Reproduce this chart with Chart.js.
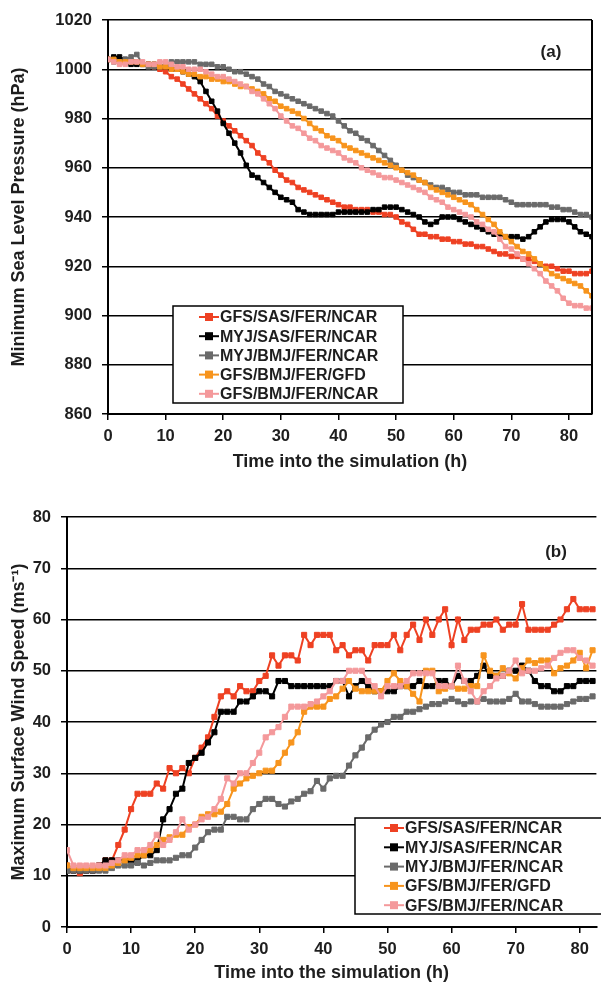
<!DOCTYPE html>
<html>
<head>
<meta charset="utf-8">
<script src="https://cdn.jsdelivr.net/npm/chart.js@4.4.1/dist/chart.umd.min.js"></script>
<style>
  html, body { margin: 0; padding: 0; background: #fff; }
  #wrap { position: relative; width: 601px; height: 984px; overflow: hidden; }
  #pressureChart { position: absolute; left: 0; top: 0; }
  #windChart { position: absolute; left: 0; top: 490px; }
</style>
</head>
<body>
<div id="wrap">
  <canvas id="pressureChart" width="601" height="490" style="width:601px;height:490px"></canvas>
  <canvas id="windChart" width="601" height="494" style="width:601px;height:494px"></canvas>
</div>
<script>
// ---- data ----
const seriesNames = ['GFS/SAS/FER/NCAR', 'MYJ/SAS/FER/NCAR', 'MYJ/BMJ/FER/NCAR', 'GFS/BMJ/FER/GFD', 'GFS/BMJ/FER/NCAR'];

// panel (a): hourly output, 0-84 h
const hoursA = [0,1,2,3,4,5,6,7,8,9,10,11,12,13,14,15,16,17,18,19,20,21,22,23,24,25,26,27,28,29,30,31,32,33,34,35,36,37,38,39,40,41,42,43,44,45,46,47,48,49,50,51,52,53,54,55,56,57,58,59,60,61,62,63,64,65,66,67,68,69,70,71,72,73,74,75,76,77,78,79,80,81,82,83,84];
const mslpGfsSasNcar = [1004,1004,1003,1003,1003,1003,1002,1002,1001,1000,999,997,996,994,992,990,988,986,984,981,979,977,975,973,971,969,966,964,962,959,957,955,954,952,951,950,949,948,947,946,945,944,944,943,943,943,942,942,941,941,940,938,937,935,933,933,932,932,931,931,930,930,929,929,928,928,927,926,925,925,924,924,923,923,922,921,920,920,919,918,918,917,917,917,918];
const mslpMyjSasNcar = [1004,1005,1005,1004,1002,1002,1002,1002,1002,1001,1001,1000,1000,999,998,997,995,991,987,983,978,974,970,966,961,957,956,954,952,950,948,947,946,943,942,941,941,941,941,941,942,942,942,942,942,942,943,943,944,944,944,943,942,941,940,938,937,938,940,940,940,939,938,937,936,935,934,933,933,932,932,932,931,932,934,936,938,939,939,939,938,936,934,933,932];
const mslpMyjBmjNcar = [1004,1003,1003,1004,1005,1006,1002,1001,1001,1001,1002,1003,1003,1003,1003,1003,1002,1002,1002,1001,1001,1000,999,999,998,997,996,994,993,991,990,989,988,987,986,985,984,983,982,981,979,977,975,974,972,971,969,967,965,963,961,959,957,956,955,954,953,952,952,951,950,950,949,949,949,948,948,948,948,947,946,945,945,945,945,945,945,944,944,943,943,942,941,941,940];
const mslpGfsBmjGfd = [1004,1004,1003,1003,1003,1003,1002,1002,1002,1001,1001,1000,1000,999,998,998,997,997,996,996,995,995,994,993,993,992,991,990,988,987,985,984,983,982,980,978,976,975,973,972,971,969,968,967,966,965,964,963,962,961,960,959,958,957,955,954,952,951,950,949,948,947,946,945,943,941,939,937,934,932,930,928,926,925,923,921,919,917,916,915,914,913,912,910,908];
const mslpGfsBmjNcar = [1004,1003,1002,1002,1003,1003,1003,1002,1002,1003,1003,1002,1001,1001,1000,1000,1000,999,998,997,997,996,995,994,993,991,990,988,986,984,981,979,977,976,974,972,971,969,968,967,966,964,963,962,960,959,958,957,956,956,955,954,953,952,951,950,948,947,946,944,943,942,941,940,938,937,935,934,931,928,927,925,923,921,919,917,914,912,910,907,905,904,904,903,903];

// panel (b): hourly output, 0-82 h
const hoursB = [0,1,2,3,4,5,6,7,8,9,10,11,12,13,14,15,16,17,18,19,20,21,22,23,24,25,26,27,28,29,30,31,32,33,34,35,36,37,38,39,40,41,42,43,44,45,46,47,48,49,50,51,52,53,54,55,56,57,58,59,60,61,62,63,64,65,66,67,68,69,70,71,72,73,74,75,76,77,78,79,80,81,82];
const windGfsSasNcar = [12,11,10.5,11,11,12,13,13,16,19,23,26,26,26,28,27,31,30,31,30,33,35,37,41,45,46,45,47,46,46,48,49,53,51,53,53,52,57,55,57,57,57,54,55,53,54,54,52,55,55,55,57,54,57,59,56,60,57,60,62,55,60,56,58,58,59,59,60,58,59,59,63,58,58,58,58,59,60,62,64,62,62,62];
const windMyjSasNcar = [11,11,11,11,11,12,13,13,13,13,13,13,14,14,15,21,23,26,27,32,33,34,36,38,42,42,42,44,44,45,46,46,45,48,48,47,47,47,47,47,47,47,48,48,45,47,48,47,46,46,46,46,47,47,47,48,47,47,48,48,47,49,48,48,49,51,49,49,49,50,50,51,50,48,47,47,46,46,47,47,48,48,48];
const windMyjBmjNcar = [11,11,11,11,11,11,11,11.5,12,12,12,12.5,12,12.5,13,13,13,13.5,14,14,15.5,17,18.5,19,19,21.5,21.5,21,21,23,24,25,25,24,23.5,24.5,25,26,26.5,28.5,27,29,29.5,29.5,31.5,33.5,35,37,38.5,39.5,40,41,41,42,42,42.5,43,43.5,43.5,44,44.5,44,43.5,44,44,44.5,44,44,44,44.5,45.5,44,44,43.5,43,43,43,43,43.5,44,44.5,44.5,45];
const windGfsBmjGfd = [12,11.5,11.5,11.5,11.5,11.5,11.5,12,12.5,13,13.5,14,14,15,16,17,17.5,18,18,19.5,20,21.5,22,22,22.5,24,27,28,29,29.5,30,30.5,30.5,32,34,36,38,42,43,43,43,44.5,45,46.5,48,46.5,46,46,46,46,48,49.5,48,47,45.5,44,50,50,46,46.5,47,46.5,46.5,47,47,53,50,49,50.5,49.5,48.5,50.5,52,51.5,52,52,49.5,50.5,51,52,53.5,50.5,54];
const windGfsBmjNcar = [15,12,12,12,12,12,12,12.5,13,14,14,15,15,16,18,16,17,18.5,21,19,20,21,21.5,23,25,29,28,30,30,32,34,37,38,39,41,43,43,43,43.5,44,45,46,48,48,50,50,50,48,47,45,47,47,47,48,49.5,49.5,49.5,49.5,47,47,47,51,48,46,44,46,47,48.5,49,50,52,49.5,50,50,50.5,51,52.5,53.5,54,54,52.5,52,51];

const pressureTicks = [860, 880, 900, 920, 940, 960, 980, 1000, 1020];
const windTicks = [0, 10, 20, 30, 40, 50, 60, 70, 80];
const timeTicks = [0, 10, 20, 30, 40, 50, 60, 70, 80];

// ---- styles ----
const seriesColors = ['#ee4123', '#000000', '#6a6a6a', '#f7941d', '#f4999b'];
const FONT = '"Liberation Sans", Arial, Helvetica, sans-serif';
const TEXT = '#1e1e1e';

const toPoints = (xs, ys) => ys.map((y, i) => ({ x: xs[i], y }));

const makeDatasets = (xs, lists, radius) => lists.map((ys, i) => ({
  label: seriesNames[i],
  data: toPoints(xs, ys),
  borderColor: seriesColors[i],
  backgroundColor: seriesColors[i],
  borderWidth: 2,
  pointStyle: 'rect',
  pointRadius: radius,
  pointBorderWidth: 1,
  pointHoverRadius: radius,
  tension: 0,
  order: lists.length - i, // later series drawn on top, like the original
}));

// frame on the right, panel tag and boxed legend inside the plot
const panelDecor = {
  id: 'panelDecor',
  afterDraw(chart, args, opts) {
    const { ctx, chartArea } = chart;
    ctx.save();
    if (opts.rightBorder) {
      ctx.strokeStyle = '#000';
      ctx.lineWidth = 2;
      ctx.beginPath();
      ctx.moveTo(chartArea.right, chartArea.top);
      ctx.lineTo(chartArea.right, chartArea.bottom);
      ctx.stroke();
    }
    ctx.fillStyle = TEXT;
    ctx.font = 'bold 17px ' + FONT;
    ctx.textAlign = 'center';
    ctx.textBaseline = 'middle';
    ctx.fillText(opts.tag, opts.tagX, opts.tagY);

    const L = opts.legend;
    ctx.fillStyle = '#fff';
    ctx.fillRect(L.x, L.y, L.w, L.h);
    ctx.strokeStyle = '#000';
    ctx.lineWidth = 1.5;
    ctx.strokeRect(L.x, L.y, L.w, L.h);
    ctx.font = 'bold 16px ' + FONT;
    ctx.textAlign = 'left';
    chart.data.datasets.forEach((ds, i) => {
      const y = L.y + L.first + i * L.step;
      ctx.strokeStyle = ds.borderColor;
      ctx.lineWidth = 2;
      ctx.beginPath();
      ctx.moveTo(L.markX, y);
      ctx.lineTo(L.markX + 20, y);
      ctx.stroke();
      ctx.fillStyle = ds.borderColor;
      ctx.fillRect(L.markX + 6, y - 4, 8, 8);
      ctx.fillStyle = TEXT;
      ctx.fillText(ds.label, L.markX + 21, y + 1);
    });
    ctx.restore();
  },
};

const makeOptions = ({ xMax, yMin, yMax, yTitle, yWidth, xHeight, padTop, padRight, xTitlePad, yTicks, decor }) => ({
  responsive: false,
  animation: false,
  layout: { padding: { left: 0, right: padRight, top: padTop, bottom: 0 } },
  plugins: {
    legend: { display: false },
    tooltip: { enabled: false },
    panelDecor: decor,
  },
  scales: {
    x: {
      type: 'linear',
      min: 0,
      max: xMax,
      afterFit: (scale) => { scale.height = xHeight; },
      afterBuildTicks: (scale) => { scale.ticks = timeTicks.map((v) => ({ value: v })); },
      ticks: { color: TEXT, font: { family: FONT, size: 16.5, weight: 'bold' }, padding: 7, maxRotation: 0, callback: (v) => String(v) },
      grid: { drawOnChartArea: false, drawTicks: true, tickLength: 6, color: '#000', lineWidth: 1.5 },
      border: { display: true, color: '#000', width: 2 },
      title: { display: true, text: 'Time into the simulation (h)', color: TEXT, font: { family: FONT, size: 18, weight: 'bold' }, padding: { top: 0, bottom: xTitlePad } },
    },
    y: {
      min: yMin,
      max: yMax,
      afterFit: (scale) => { scale.width = yWidth; },
      afterBuildTicks: (scale) => { scale.ticks = yTicks.map((v) => ({ value: v })); },
      ticks: { color: TEXT, font: { family: FONT, size: 16.5, weight: 'bold' }, padding: 10, callback: (v) => String(v) },
      grid: { color: '#000', lineWidth: 1.5, tickLength: 6 },
      border: { display: true, color: '#000', width: 2 },
      title: { display: true, text: yTitle, color: TEXT, font: { family: FONT, size: 18, weight: 'bold' }, padding: { top: 8, bottom: 0 } },
    },
  },
});

new Chart(document.getElementById('pressureChart'), {
  type: 'line',
  data: {
    datasets: makeDatasets(hoursA, [mslpGfsSasNcar, mslpMyjSasNcar, mslpMyjBmjNcar, mslpGfsBmjGfd, mslpGfsBmjNcar], 3.2),
  },
  options: makeOptions({
    xMax: 84, yMin: 860, yMax: 1020, yTicks: pressureTicks,
    yTitle: 'Minimum Sea Level Pressure (hPa)',
    yWidth: 108, xHeight: 76, padTop: 20, padRight: 9, xTitlePad: 17,
    decor: {
      rightBorder: true, tag: '(a)', tagX: 551, tagY: 52,
      legend: { x: 173, y: 306, w: 230, h: 97, first: 11, step: 19.2, markX: 199 },
    },
  }),
  plugins: [panelDecor],
});

new Chart(document.getElementById('windChart'), {
  type: 'line',
  data: {
    datasets: makeDatasets(hoursB, [windGfsSasNcar, windMyjSasNcar, windMyjBmjNcar, windGfsBmjGfd, windGfsBmjNcar], 3.6),
  },
  options: makeOptions({
    xMax: 82.6, yMin: 0, yMax: 80, yTicks: windTicks,
    yTitle: 'Maximum Surface Wind Speed (ms\u207B\u00B9)',
    yWidth: 67, xHeight: 57, padTop: 27, padRight: 0, xTitlePad: 0,
    decor: {
      rightBorder: false, tag: '(b)', tagX: 556, tagY: 62,
      legend: { x: 355, y: 328, w: 250, h: 96, first: 10, step: 19.3, markX: 384 },
    },
  }),
  plugins: [panelDecor],
});
</script>
</body>
</html>
